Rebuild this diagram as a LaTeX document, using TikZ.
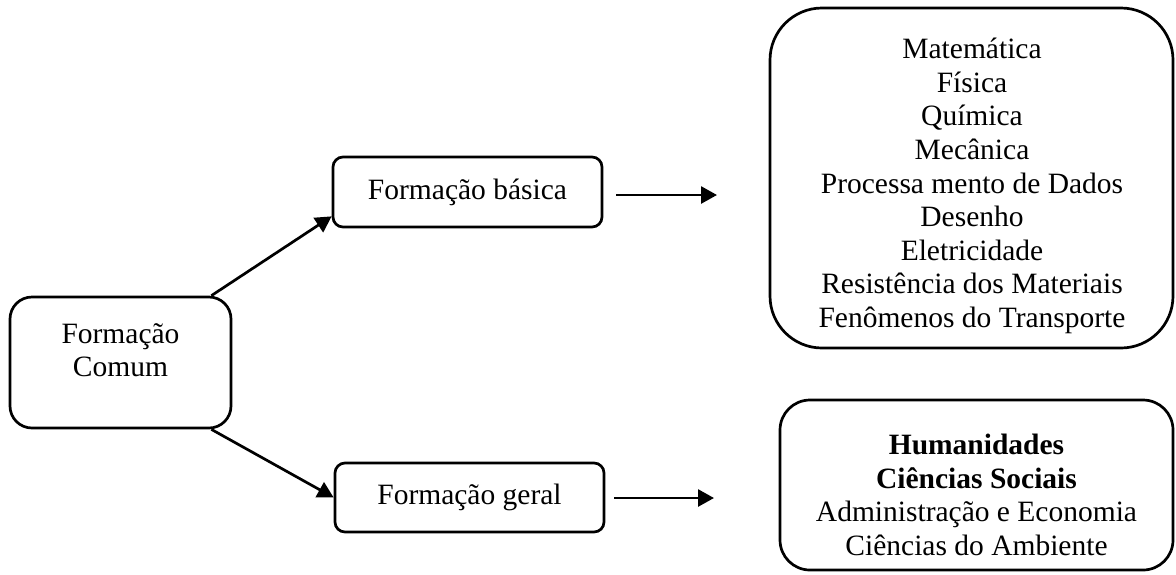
\documentclass[tikz,border=0pt]{standalone}
\usepackage{fontspec}
\setmainfont{Liberation Serif}
\usetikzlibrary{arrows.meta}
\begin{document}
\begin{tikzpicture}[x=0.5pt,y=-0.5pt,
  box/.style={draw, line width=1.35pt, inner sep=0pt},
  lbl/.style={align=center, font=\fontsize{14.75pt}{16.8pt}\selectfont, inner sep=0pt},
  conn/.style={line width=1.35pt, -{Triangle[length=8pt,width=8.5pt]}}]
\useasboundingbox (0,0) rectangle (1176,574);
% boxes
\node[box, rounded corners=11pt, minimum width=110.5pt, minimum height=65.5pt] (comum) at (120.5,362.5) {};
\node[lbl] (comumtext) at (120.5,350) {Formação\\Comum};
\node[box, lbl, rounded corners=5pt, minimum width=134.5pt, minimum height=35pt] (basica) at (467.5,192) {Formação básica};
\node[box, lbl, rounded corners=5pt, minimum width=134.5pt, minimum height=34.5pt] (geral) at (469.5,497.5) {Formação geral};
\node[box, rounded corners=26pt, minimum width=201.5pt, minimum height=170pt] (big) at (971.5,178) {};
\node[lbl] (bigtext) at (972,186) {Matemática\\Física\\Química\\Mecânica\\Processa mento de Dados\\Desenho\\Eletricidade\\Resistência dos Materiais\\Fenômenos do Transporte};
\node[box, rounded corners=15pt, minimum width=196.5pt, minimum height=85pt] (hum) at (976.5,485) {};
\node[lbl] (humtext) at (976.5,495) {\textbf{Humanidades}\\\textbf{Ciências Sociais}\\Administração e Economia\\Ciências do Ambiente};
% connectors
\draw[conn] ([xshift=-10.5pt]comum.north east) -- ([yshift=6pt]basica.south west);
\draw[conn] ([xshift=-10.5pt]comum.south east) -- (geral.west);
\coordinate (b1) at (616,195);
\coordinate (b2) at (717,195);
\coordinate (g1) at (614,498);
\coordinate (g2) at (714,498);
\draw[conn] (b1) -- (b2);
\draw[conn] (g1) -- (g2);
\end{tikzpicture}
\end{document}
